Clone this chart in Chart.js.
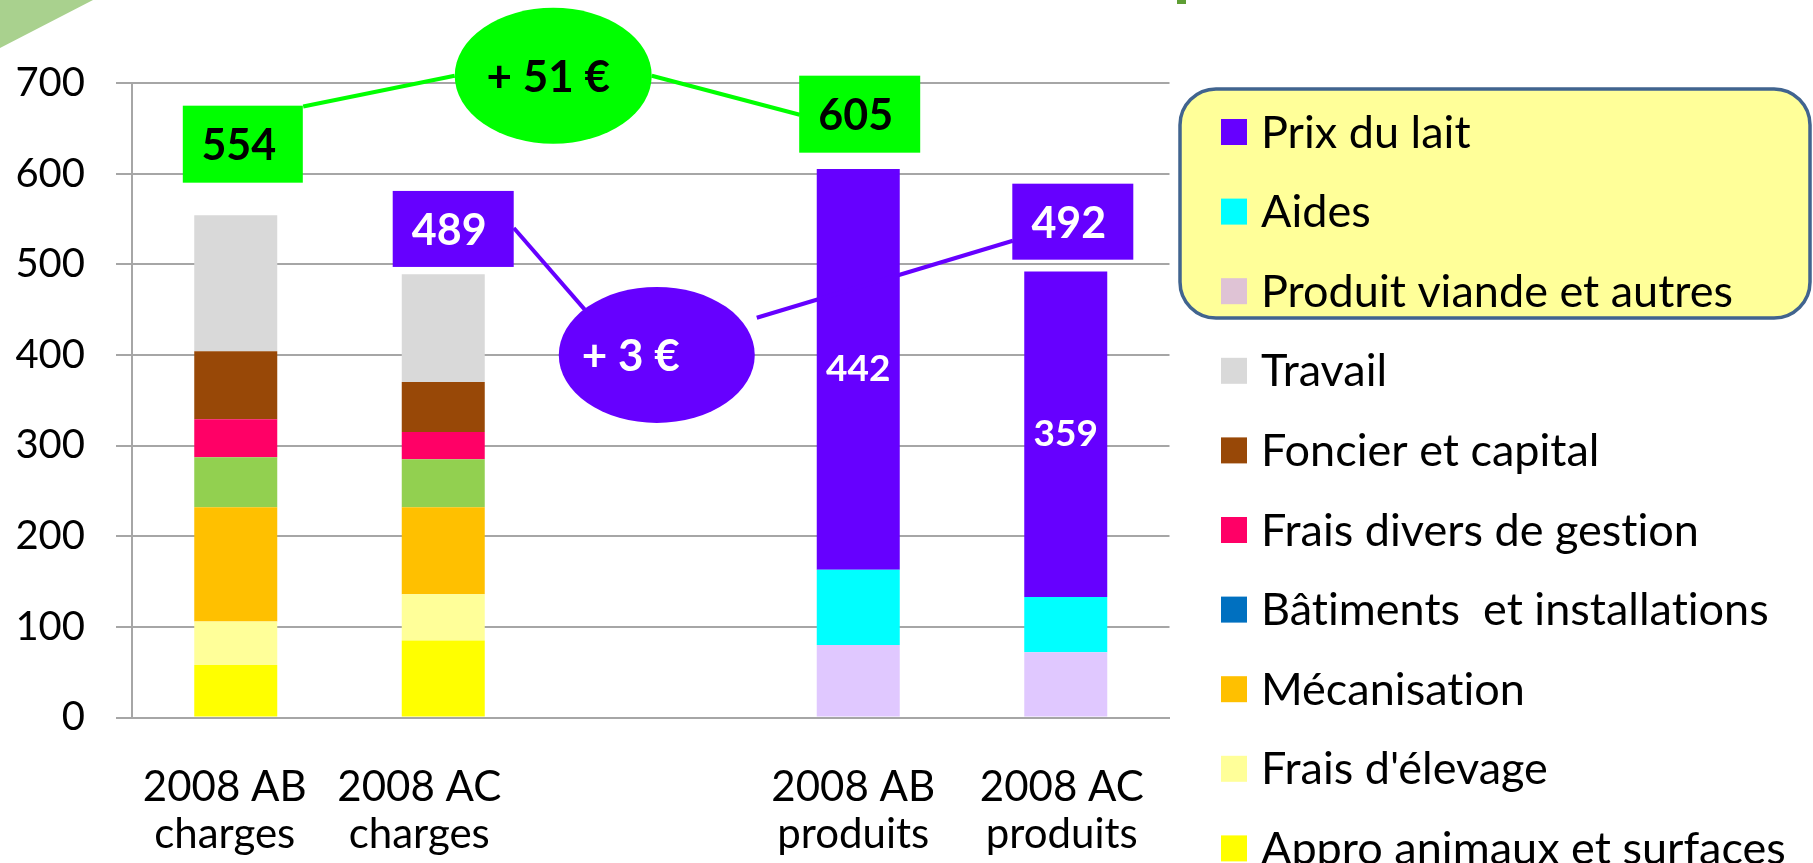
<!DOCTYPE html>
<html><head><meta charset="utf-8">
<script src="https://cdn.jsdelivr.net/npm/chart.js@4.4.1/dist/chart.umd.min.js"></script>
<style>html,body{margin:0;padding:0;background:#fff;overflow:hidden}canvas{display:block}</style>
</head><body>
<canvas id="c" width="1813" height="863"></canvas>
<script>
// ---------- DATA ----------
const categories = [["2008 AB","charges"],["2008 AC","charges"],"",["2008 AB","produits"],["2008 AC","produits"]];
const yTicks = [0,100,200,300,400,500,600,700];
const appro         = [58, 85, null, null, null];
const fraisElevage  = [48, 51, null, null, null];
const mecanisation  = [126, 96, null, null, null];
const batiments     = [55, 53, null, null, null];
const fraisDivers   = [42, 30, null, null, null];
const foncier       = [75, 55, null, null, null];
const travail       = [150, 119, null, null, null];
const produitViande = [null, null, null, 80, 72];
const aides         = [null, null, null, 83, 61];
const prixLait      = [null, null, null, 442, 359];
const seriesNames = ["Appro animaux et surfaces","Frais d'élevage","Mécanisation","Bâtiments  et installations","Frais divers de gestion","Foncier et capital","Travail","Produit viande et autres","Aides","Prix du lait"];

// ---------- STYLE ----------
const FONT = 'Lato, "Open Sans", sans-serif';
const barColors    = ['#FFFF00','#FFFF99','#FFC000','#92D050','#FF0066','#984807','#D9D9D9','#E0C8FF','#00FFFF','#6600FF'];
const legendColors = ['#FFFF00','#FFFF99','#FFC000','#0070C0','#FF0066','#984807','#D9D9D9','#DFC3D5','#00FFFF','#6600FF'];
const GRID = '#A6A6A6';
const GREEN = '#00FF00', PURPLE = '#6600FF';
const xLabelShift = [-11, -24, 0, -5, -4];

const seriesData = [appro, fraisElevage, mecanisation, batiments, fraisDivers, foncier, travail, produitViande, aides, prixLait];
const sumAt = i => seriesData.reduce((s, d) => s + (d[i] || 0), 0);
const totals = categories.map((_, i) => sumAt(i));

const datasets = seriesData.map((d, k) => ({
  label: seriesNames[k], data: d, backgroundColor: barColors[k], borderWidth: 0,
  barPercentage: 0.4, categoryPercentage: 1.0
}));

// annotation layout (in category-index / value space)
const annotations = {
  lines: [
    {color: GREEN,  pts: [[0.325, 674], [1.055, 708]]},
    {color: GREEN,  pts: [[2.005, 708], [2.718, 665]]},
    {color: PURPLE, pts: [[1.340, 540], [1.682, 450]]},
    {color: PURPLE, pts: [[2.511, 441], [3.745, 526]]}
  ],
  boxes: [
    {idx: 0.034, val: 632.5, w: 120, h: 77, fill: GREEN,  color: '#000', text: String(totals[0]), dx: -4},
    {idx: 1.048, val: 539,   w: 121, h: 76, fill: PURPLE, color: '#fff', text: String(totals[1]), dx: -4},
    {idx: 3.007, val: 665.6, w: 121, h: 77, fill: GREEN,  color: '#000', text: String(totals[3]), dx: -4},
    {idx: 4.034, val: 547,   w: 121, h: 76, fill: PURPLE, color: '#fff', text: String(totals[4]), dx: -4}
  ],
  ellipses: [
    {idx: 1.530, val: 708, rx: 98.5, ry: 68, fill: GREEN,  color: '#000', text: '+ ' + (totals[3] - totals[0]) + ' €', dx: -5},
    {idx: 2.029, val: 400, rx: 98,   ry: 68, fill: PURPLE, color: '#fff', text: '+ ' + (totals[4] - totals[1]) + ' €', dx: -26}
  ]
};

const decoPlugin = {
  id: 'deco',
  beforeDraw(chart) {
    const ctx = chart.ctx;
    ctx.save();
    ctx.fillStyle = '#fff';
    ctx.fillRect(0, 0, chart.width, chart.height);
    ctx.fillStyle = '#A9D18E';
    ctx.beginPath(); ctx.moveTo(0, 0); ctx.lineTo(93, 0); ctx.lineTo(0, 48); ctx.closePath(); ctx.fill();
    ctx.fillStyle = '#5E9E34';
    ctx.fillRect(1177, 0, 9, 4);
    ctx.restore();
  },
  afterDatasetsDraw(chart) {
    const ctx = chart.ctx, xs = chart.scales.x, ys = chart.scales.y;
    const P = (i, v) => [xs.getPixelForValue(i), ys.getPixelForValue(v)];
    ctx.save();
    ctx.textAlign = 'center'; ctx.textBaseline = 'middle';
    // category labels (two lines, under the axis)
    ctx.font = '42px ' + FONT; ctx.fillStyle = '#000';
    categories.forEach((lab, i) => {
      const lines = Array.isArray(lab) ? lab : [lab];
      const x = xs.getPixelForValue(i) + xLabelShift[i];
      lines.forEach((t, j) => ctx.fillText(t, x, xs.top + 70 + j * 47));
    });
    // value labels inside "Prix du lait" segments
    const k = seriesData.indexOf(prixLait);
    const meta = chart.getDatasetMeta(k);
    ctx.font = 'bold 37px ' + FONT;
    ctx.fillStyle = '#fff';
    meta.data.forEach((el, i) => {
      if (prixLait[i] == null) return;
      ctx.fillText(String(prixLait[i]), el.x, (el.y + el.base) / 2);
    });
    // connector lines
    ctx.lineCap = 'butt';
    annotations.lines.forEach(l => {
      ctx.strokeStyle = l.color; ctx.lineWidth = 4;
      ctx.beginPath();
      l.pts.forEach((p, j) => { const [x, y] = P(p[0], p[1]); j ? ctx.lineTo(x, y) : ctx.moveTo(x, y); });
      ctx.stroke();
    });
    // boxes
    ctx.font = 'bold 43px ' + FONT;
    annotations.boxes.forEach(b => {
      const [cx, cy] = P(b.idx, b.val);
      ctx.fillStyle = b.fill;
      ctx.fillRect(cx - b.w / 2, cy - b.h / 2, b.w, b.h);
      ctx.fillStyle = b.color;
      ctx.fillText(b.text, cx + b.dx, cy + 2);
    });
    ctx.font = 'bold 44px ' + FONT;
    annotations.ellipses.forEach(e => {
      const [cx, cy] = P(e.idx, e.val);
      ctx.fillStyle = e.fill;
      ctx.beginPath(); ctx.ellipse(cx, cy, e.rx, e.ry, 0, 0, Math.PI * 2); ctx.fill();
      ctx.fillStyle = e.color;
      ctx.fillText(e.text, cx + e.dx, cy + 2);
    });
    ctx.restore();
  },
  afterDraw(chart) {
    const ctx = chart.ctx;
    ctx.save();
    // highlighted legend frame
    ctx.fillStyle = '#FFFF99'; ctx.strokeStyle = '#41648F'; ctx.lineWidth = 3.5;
    ctx.beginPath(); ctx.roundRect(1180, 89, 630, 229, 36); ctx.fill(); ctx.stroke();
    // legend entries (top to bottom = reverse stacking order)
    ctx.font = '45px ' + FONT; ctx.textAlign = 'left'; ctx.textBaseline = 'middle';
    if ('letterSpacing' in ctx) ctx.letterSpacing = '0.01px';
    const order = seriesNames.map((_, i) => i).reverse();
    order.forEach((k, j) => {
      const y = 132 + j * 79.6;
      ctx.fillStyle = legendColors[k];
      ctx.fillRect(1221, y - 13, 26, 26);
      ctx.fillStyle = '#000';
      ctx.fillText(seriesNames[k], 1261, y + 1);
    });
    ctx.restore();
  }
};

new Chart(document.getElementById('c'), {
  type: 'bar',
  data: { labels: categories, datasets },
  plugins: [decoPlugin],
  options: {
    responsive: false, animation: false, devicePixelRatio: 1,
    layout: { padding: { left: 0, right: 643.5, top: 83, bottom: 0 } },
    plugins: { legend: { display: false }, tooltip: { enabled: false } },
    scales: {
      x: {
        stacked: true,
        afterFit: s => { s.height = 145.5; },
        grid: { display: false, drawTicks: false },
        border: { display: true, color: GRID, width: 2 },
        ticks: { display: false }
      },
      y: {
        stacked: true, min: 0, max: 700,
        afterFit: s => { s.width = 132; },
        afterBuildTicks: s => { s.ticks = yTicks.map(v => ({ value: v })); },
        grid: { color: GRID, lineWidth: 2, drawTicks: true, tickLength: 16, tickColor: GRID },
        border: { display: true, color: GRID, width: 2 },
        ticks: { color: '#000', padding: 31, font: { family: FONT, size: 40 } }
      }
    }
  }
});
</script>
</body></html>
